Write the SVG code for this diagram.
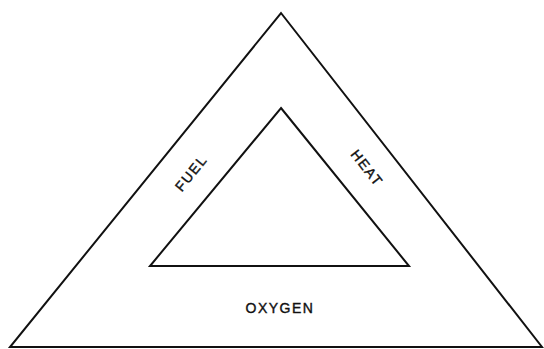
<svg xmlns="http://www.w3.org/2000/svg" width="544" height="349" viewBox="0 0 544 349">
<style>
.tri{fill:none;stroke:#111;stroke-width:2;stroke-linejoin:miter}
.lbl{font-family:"Liberation Sans",Arial,sans-serif;font-size:14px;fill:#111;stroke:#111;stroke-width:0.4;letter-spacing:1.5px;text-anchor:middle}
</style>
<rect width="544" height="349" fill="#fff"/>
<g id="outer"><polygon class="tri" points="281,13 542,347 10,347"/></g>
<g id="inner"><polygon class="tri" points="281,108 409,266 150,266"/></g>
<g id="fuel"><text class="lbl" transform="translate(191,173) rotate(-51)" dy="5">FUEL</text></g>
<g id="heat"><text class="lbl" transform="translate(367,168) rotate(52)" dy="5">HEAT</text></g>
<g id="oxygen"><text class="lbl" x="280" y="313">OXYGEN</text></g>
</svg>
